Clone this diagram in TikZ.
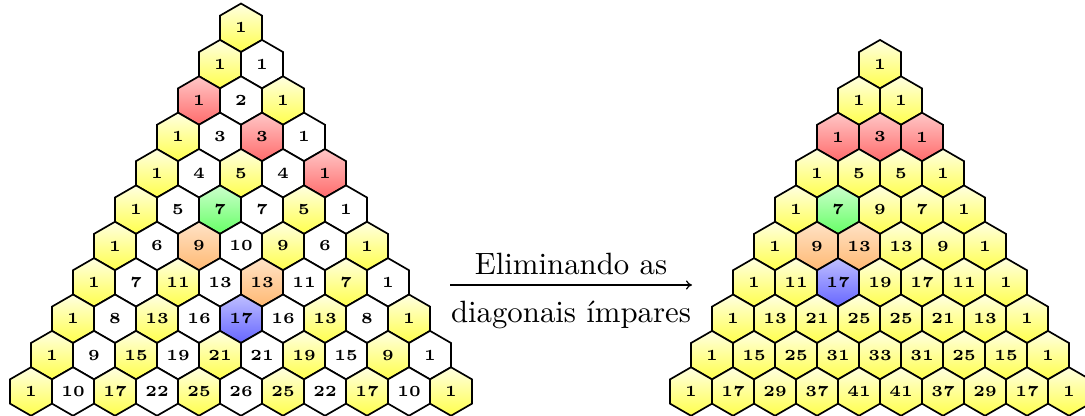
\documentclass[tikz,border=0pt]{standalone}
\usepackage{fontspec}
\newfontface\hexfont{lmroman5-bold}[Extension=.otf]
\newfontface\captfont{lmroman10-regular}[Extension=.otf]
\usetikzlibrary{shapes.geometric,arrows.meta}
\colorlet{topy}{yellow!12}\colorlet{boty}{yellow!70}
\colorlet{topw}{white}\colorlet{botw}{white}
\colorlet{topr}{red!22}\colorlet{botr}{red!58}
\colorlet{topg}{green!20}\colorlet{botg}{green!60}
\colorlet{topo}{orange!22}\colorlet{boto}{orange!55}
\colorlet{topb}{blue!25}\colorlet{botb}{blue!60}
\begin{document}
\begin{tikzpicture}[x=0.5pt,y=0.5pt,
  hexagon/.style={regular polygon, regular polygon sides=6, shape border rotate=30,
    minimum size=24.25pt, inner sep=0pt, outer sep=0pt, draw=black, line width=0.85pt,
    font=\hexfont\fontsize{7.7}{8}\selectfont},
  captext/.style={font=\captfont\fontsize{15.4}{18}\selectfont, anchor=base, inner sep=0pt}]
\useasboundingbox (0,0) rectangle (1085,416);
% left triangle
\foreach \row [count=\n from 0] in {
  {1/y},
  {1/y,1/w},
  {1/r,2/w,1/y},
  {1/y,3/w,3/r,1/w},
  {1/y,4/w,5/y,4/w,1/r},
  {1/y,5/w,7/g,7/w,5/y,1/w},
  {1/y,6/w,9/o,10/w,9/y,6/w,1/y},
  {1/y,7/w,11/y,13/w,13/o,11/w,7/y,1/w},
  {1/y,8/w,13/y,16/w,17/b,16/w,13/y,8/w,1/y},
  {1/y,9/w,15/y,19/w,21/y,21/w,19/y,15/w,9/y,1/w},
  {1/y,10/w,17/y,22/w,25/y,26/w,25/y,22/w,17/y,10/w,1/y}}{
  \foreach \v/\c [count=\k from 0] in \row {
    \pgfmathsetmacro\X{241+42*\k-21*\n}
    \pgfmathsetmacro\Y{416-27.8-36.37*\n}
    \node[hexagon, top color=top\c, bottom color=bot\c] (L-\n-\k) at (\X,\Y) {\v};
  }
}
% right triangle
\foreach \row [count=\n from 0] in {
  {1/y},
  {1/y,1/y},
  {1/r,3/r,1/r},
  {1/y,5/y,5/y,1/y},
  {1/y,7/g,9/y,7/y,1/y},
  {1/y,9/o,13/o,13/y,9/y,1/y},
  {1/y,11/y,17/b,19/y,17/y,11/y,1/y},
  {1/y,13/y,21/y,25/y,25/y,21/y,13/y,1/y},
  {1/y,15/y,25/y,31/y,33/y,31/y,25/y,15/y,1/y},
  {1/y,17/y,29/y,37/y,41/y,41/y,37/y,29/y,17/y,1/y}}{
  \foreach \v/\c [count=\k from 0] in \row {
    \pgfmathsetmacro\X{880+42*\k-21*\n}
    \pgfmathsetmacro\Y{416-64.2-36.37*\n}
    \node[hexagon, top color=top\c, bottom color=bot\c] (R-\n-\k) at (\X,\Y) {\v};
  }
}
\coordinate (aS) at (450,131);
\coordinate (aE) at (692,131);
\draw[line width=0.6pt, -{Computer Modern Rightarrow[length=3pt,width=4.6pt]}] (aS) -- (aE);
\node[captext] (t1) at (571,141) {Eliminando as};
\node[captext] (t2) at (571,93) {diagonais ímpares};
\end{tikzpicture}
\end{document}
